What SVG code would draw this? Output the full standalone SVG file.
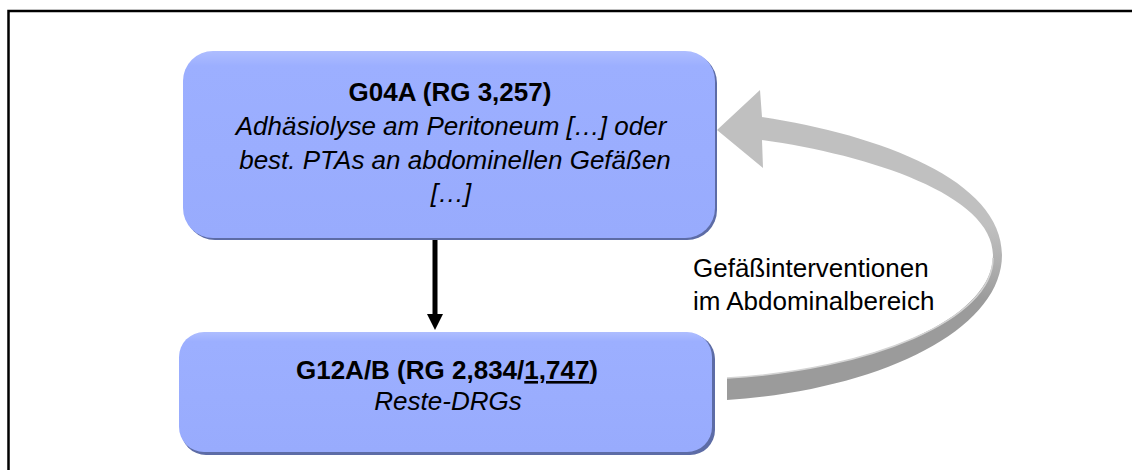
<svg xmlns="http://www.w3.org/2000/svg" width="1132" height="470" viewBox="0 0 1132 470">
<defs>
<style>
.t{font-family:"Liberation Sans",Arial,sans-serif;font-size:26px;fill:#000;}
.b{font-weight:bold;}
.i{font-style:italic;}
.shadow{fill:#5d6ca6;}
.box{fill:url(#boxg);}
</style>
<linearGradient id="boxg" x1="0" y1="0" x2="0" y2="1">
<stop offset="0" stop-color="#aebdff"/>
<stop offset="0.08" stop-color="#9cafff"/>
<stop offset="1" stop-color="#98abfd"/>
</linearGradient>
<linearGradient id="arrg" gradientUnits="userSpaceOnUse" x1="0" y1="225" x2="0" y2="300">
<stop offset="0" stop-color="#c0c0c0"/>
<stop offset="0.5" stop-color="#b0b0b0"/>
<stop offset="1" stop-color="#9b9b9b"/>
</linearGradient>
</defs>
<rect x="0" y="0" width="1132" height="470" fill="#fff"/>
<path d="M8.5,472 L8.5,11 L1134,11" fill="none" stroke="#000" stroke-width="2.5"/>

<g id="connectors">
<path d="M435,238 L435,316" stroke="#000" stroke-width="5" fill="none"/>
<path d="M427,314 L443,314 L435,330 Z" fill="#000"/>
<path d="M727,400 C880,390 1002,330 1002,255 C1002,180 880,135 762,117 L760,90 L717,130 L763,168 L762,140 C870,155 993,195 993,255 C993,320 870,370 727,378 Z" fill="url(#arrg)"/>
<path d="M993,258 C993,320 870,370 727,378" fill="none" stroke="#d4d4d4" stroke-width="1.5"/>
<text class="t" x="693" y="277">Gefäßinterventionen</text>
<text class="t" x="693" y="310">im Abdominalbereich</text>
</g>

<g id="node-g04a">
<rect class="shadow" x="185" y="53" width="532" height="187" rx="30"/>
<rect class="box" x="183" y="51" width="532" height="187" rx="30"/>
<text class="t b" x="450" y="101" text-anchor="middle">G04A (RG 3,257)</text>
<text class="t i" x="451" y="135" text-anchor="middle">Adhäsiolyse am Peritoneum […] oder</text>
<text class="t i" x="455" y="169" text-anchor="middle">best. PTAs an abdominellen Gefäßen</text>
<text class="t i" x="451" y="202" text-anchor="middle">[…]</text>
</g>

<g id="node-g12ab">
<rect class="shadow" x="181" y="334" width="534" height="121" rx="25"/>
<rect class="box" x="179" y="332" width="533" height="120" rx="25"/>
<text class="t b" x="447" y="379" text-anchor="middle">G12A/B (RG 2,834/<tspan text-decoration="underline">1,747</tspan>)</text>
<text class="t i" x="448" y="410" text-anchor="middle">Reste-DRGs</text>
</g>
</svg>
